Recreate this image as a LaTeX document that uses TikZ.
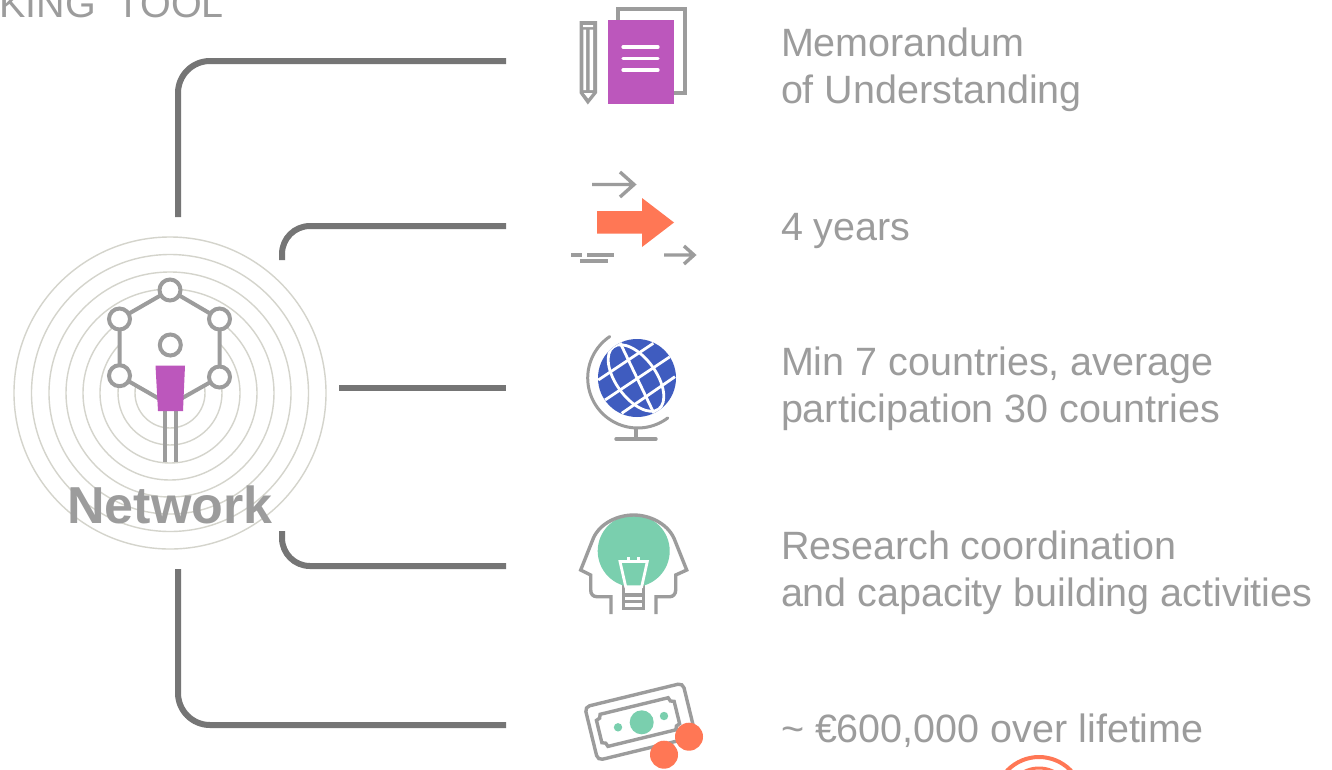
\documentclass[tikz,border=0pt]{standalone}
\usepackage{fontspec}
\setmainfont{Liberation Sans}
\definecolor{txt}{HTML}{9C9C9C}
\definecolor{lnk}{HTML}{757575}
\definecolor{ring}{HTML}{D4D4CC}
\definecolor{ico}{HTML}{9C9C9C}
\definecolor{mauve}{HTML}{BC57BC}
\definecolor{coral}{HTML}{FF7755}
\definecolor{globeb}{HTML}{3F5CBF}
\definecolor{mint}{HTML}{7ACFAE}
\newcommand{\lstrut}{\rule{0pt}{36pt}}
\tikzset{
  linkline/.style={draw=lnk,line width=6pt},
  label/.style={anchor=north west,inner sep=0pt,outer sep=0pt,align=left,text=txt,font=\fontsize{39.5}{47.7}\selectfont},
  ringline/.style={draw=ring,line width=1.4pt},
  icon/.style={draw=ico,line width=3.4pt},
  hub/.style={draw=ico,line width=4pt,fill=white},
  wline/.style={draw=white,line width=2.8pt},
}
\begin{document}
\begin{tikzpicture}[x=1pt,y=-1pt]
\useasboundingbox (0,0) rectangle (1332,769);
\fill[white] (0,0) rectangle (1332,769);
% clipped title
\node[anchor=base east,inner sep=0pt,text=txt,font=\fontsize{39.5}{48}\selectfont] (title) at (224,17) {KING\hspace{10pt} TOOL};
% rings
\foreach \r in {156,138.5,121,104,87,70,52,35}{\draw[ringline] (170,393) circle[radius=\r pt];}
% hub figure
\fill[white] (119.5,319) -- (170,290) -- (219.5,319) -- (219.5,377) -- (170,405) -- (119.5,376) -- cycle;
\draw[icon,line width=4pt] (119.5,376) -- (119.5,319) -- (170,290) -- (219.5,319) -- (219.5,377) -- (170,405) -- cycle;
\draw[icon,line width=3.8pt] (165,408) -- (165,462) (175.7,408) -- (175.7,462);
\fill[mauve] (155.5,365.5) -- (185,365.5) -- (183,411) -- (158,411) -- cycle;
\node[hub,circle,minimum size=21pt,inner sep=0pt] (hubA) at (170,290) {};
\node[hub,circle,minimum size=21pt,inner sep=0pt] (hubB) at (119.5,319) {};
\node[hub,circle,minimum size=21pt,inner sep=0pt] (hubC) at (219.5,319) {};
\node[hub,circle,minimum size=21pt,inner sep=0pt] (hubD) at (119.5,375.7) {};
\node[hub,circle,minimum size=21pt,inner sep=0pt] (hubE) at (219.5,377) {};
\node[hub,circle,minimum size=21pt,inner sep=0pt] (hubH) at (170.3,345) {};
\node[anchor=base,inner sep=0pt,text=txt,font=\fontsize{52}{60}\selectfont\bfseries] (network) at (170,523) {Network};
% connectors
\coordinate (a1) at (178,217); \coordinate (b1) at (506,61);
\coordinate (a2) at (282,260); \coordinate (b2) at (506,226);
\coordinate (a3) at (339,388); \coordinate (b3) at (506,388);
\coordinate (a4) at (282,531); \coordinate (b4) at (506,566);
\coordinate (a5) at (178,569); \coordinate (b5) at (506,725);
\draw[linkline,rounded corners=32pt] (a1) |- (b1);
\draw[linkline,rounded corners=28pt] (a2) |- (b2);
\draw[linkline] (a3) -- (b3);
\draw[linkline,rounded corners=28pt] (a4) |- (b4);
\draw[linkline,rounded corners=32pt] (a5) |- (b5);
% document + pencil
\draw[icon] (618,20) -- (618,9) -- (685,9) -- (685,93) -- (674,93);
\fill[mauve] (608,20) rectangle (674,104);
\draw[wline,line width=3.2pt,line cap=round] (623,47) -- (658,47) (623,58.5) -- (658,58.5) (623,70) -- (658,70);
\fill[ico] (579.5,21) -- (597,21) -- (597,93) -- (587.8,104.5) -- (579.5,93) -- cycle;
\fill[white] (583,25) rectangle (593,27) (583.4,29.5) rectangle (586,90) (589.6,29.5) rectangle (593,90);
\fill[white] (583.8,93) -- (592.6,93) -- (588.2,98.5) -- cycle;
% arrows
\fill[coral] (597,211) -- (642,211) -- (642,198) -- (674,222.5) -- (642,247) -- (642,233.5) -- (597,233.5) -- cycle;
\draw[icon] (592,184.5) -- (634,184.5) (620,172) -- (634,184.5) -- (620,197);
\draw[icon] (664,255) -- (693,255) (684,246) -- (694,255) -- (684,264);
\draw[icon] (571,255) -- (582,255) (587,255) -- (614,255) (580,261) -- (608,261);
% globe
\fill[globeb] (637,378) circle[radius=39pt];
\begin{scope}
\clip (637,378) circle[radius=39pt];
\draw[wline] (598.3,380) -- (653.3,343.3) (605,400) -- (670,356.7) (621.7,413.3) -- (675,376.7);
\draw[wline] (613,328) -- (661,428);
\draw[wline,rotate around={-54:(636,378)}] (636,378) ellipse[x radius=38.5pt,y radius=20pt];
\end{scope}
\draw[icon,line width=3pt,line cap=round] plot[domain=124:307,samples=50] ({637.7+50*cos(\x)},{378-50*sin(\x)});
\draw[icon] (636,428) -- (636,439);
\draw[icon,line cap=round] (616,439) -- (656,439);
% head + bulb
\draw[icon] (623.3,585) -- (623.3,608.3) -- (643.7,608.3) -- (643.7,585)
  (623.3,595) -- (643.7,595) (623.3,601.7) -- (643.7,601.7);
\fill[mint] (633.7,551) circle[radius=36pt];
\draw[icon] (611,614) -- (611,596.7) -- (597,596.7) .. controls (593,596.7) and (590.7,594) .. (590.7,590) -- (590.7,575) -- (580.7,570) -- (593.3,538.3)
  .. controls (600,523) and (618,515) .. (633.7,515) .. controls (649,515) and (667,523) .. (674,538.3)
  -- (686.7,570) -- (675.7,575) -- (675.7,590) .. controls (675.7,594) and (673,596.7) .. (670,596.7) -- (656,596.7) -- (656,614);
\draw[wline] (620,561.5) -- (647.3,561.5) -- (641.7,586.7) -- (625.7,586.7) -- cycle;
\draw[wline] (628.3,557) -- (628.3,561) (638.3,557) -- (638.3,561);
% money
\begin{scope}[rotate around={13.7:(640.3,721.7)}]
\draw[icon,rounded corners=5pt] (589.8,694.2) rectangle (690.8,749.2);
\draw[icon] (603,705) -- (673,705) .. controls (673,708) and (675,710) .. (678,710) -- (678,733) .. controls (675,733) and (673,735) .. (673,738)
  -- (603,738) .. controls (603,735) and (601,733) .. (598,733) -- (598,710) .. controls (601,710) and (603,708) .. (603,705) -- cycle;
\end{scope}
\fill[mint] (641.7,722.3) circle[radius=12pt] (618,727.3) circle[radius=4.2pt] (664,716) circle[radius=4.2pt];
\fill[coral] (689,736.7) circle[radius=14pt] (664,754.7) circle[radius=14pt];
% clipped orange icon at page foot
\draw[coral,line width=4pt] (1039,801) circle[radius=44pt];
\draw[coral,line width=3pt] (1039,801) circle[radius=33pt];
% labels
\node[label] (t1) at (781,20) {\lstrut Memorandum\\of Understanding};
\node[label] (t2) at (781,204) {\lstrut 4 years};
\node[label] (t3) at (781,339) {\lstrut Min 7 countries, average\\participation 30 countries};
\node[label] (t4) at (781,523) {\lstrut Research coordination\\and capacity building activities};
\node[label] (t5) at (781,706) {\lstrut \textasciitilde{} €600,000 over lifetime};
\end{tikzpicture}
\end{document}
